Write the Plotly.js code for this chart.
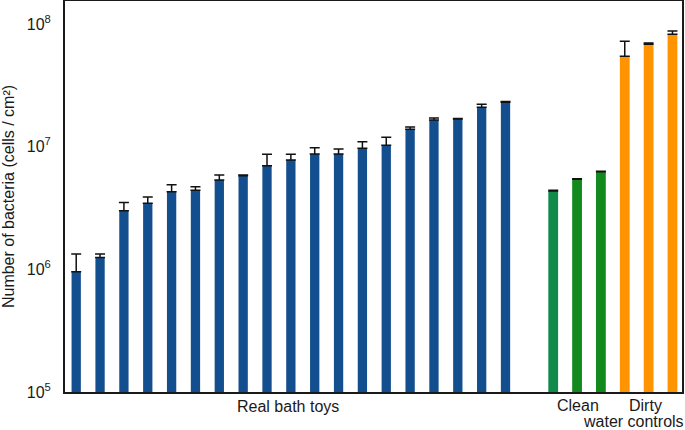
<!DOCTYPE html>
<html>
<head>
<meta charset="utf-8">
<script src="https://cdn.plot.ly/plotly-3.0.1.min.js"></script>
<style>html,body{margin:0;padding:0;background:#fff;}#chart{width:685px;height:430px;}</style>
</head>
<body>
<div id="chart"></div>
<script>
// Real bath toys (cells / cm²), sorted ascending, with upper error
const toyValues = [9.56e5, 1.25e6, 3.00e6, 3.45e6, 4.29e6, 4.40e6, 5.34e6, 5.79e6, 6.99e6, 7.78e6, 8.70e6, 8.70e6, 9.69e6, 1.025e7, 1.384e7, 1.648e7, 1.679e7, 2.091e7, 2.296e7];
const toyErrors = [3.77e5, 0.08e6, 0.51e6, 0.43e6, 0.60e6, 0.31e6, 0.52e6, 0.08e6, 1.67e6, 0.88e6, 1.09e6, 0.86e6, 1.28e6, 1.66e6, 0.60e6, 0.63e6, 0.13e6, 1.20e6, 0.35e6];
// Control experiments
const cleanValues = [4.35e6, 5.41e6, 6.24e6];
const cleanErrors = [0.06e6, 0.05e6, 0.05e6];
const dirtyValues = [5.44e7, 6.82e7, 8.23e7];
const dirtyErrors = [1.77e7, 0.17e7, 0.52e7];
const yTickValues = [1e5, 1e6, 1e7, 1e8];
const yTickText = ['10<sup>5</sup>', '10<sup>6</sup>', '10<sup>7</sup>', '10<sup>8</sup>'];
const groupLabels = ['Real bath toys', 'Clean', 'Dirty', 'water controls'];

const toyX = toyValues.map((_, i) => i);
const cleanX = cleanValues.map((_, i) => toyValues.length + 1 + i);
const dirtyX = dirtyValues.map((_, i) => toyValues.length + 1 + cleanValues.length + i);

const errStyle = (arr) => ({type: 'data', symmetric: false, array: arr, arrayminus: arr.map(() => 0), color: '#111', thickness: 1.5, width: 5, visible: true});

const traces = [
  {type: 'bar', x: toyX, y: toyValues, width: 0.39, marker: {color: '#134e8e'}, error_y: errStyle(toyErrors), hoverinfo: 'y'},
  {type: 'bar', x: cleanX, y: cleanValues, width: 0.41, marker: {color: ['#0f8a48', '#12891c', '#12891c']}, error_y: errStyle(cleanErrors), hoverinfo: 'y'},
  {type: 'bar', x: dirtyX, y: dirtyValues, width: 0.41, marker: {color: '#ff9300'}, error_y: errStyle(dirtyErrors), hoverinfo: 'y'}
];

const family = 'Liberation Sans, Arial, sans-serif';
const font = {family: family, size: 16, color: '#1a1a1a'};

const layout = {
  width: 685, height: 430,
  margin: {l: 65, r: 2.5, t: 1, b: 38},
  paper_bgcolor: '#fff', plot_bgcolor: '#fff',
  showlegend: false,
  barmode: 'overlay',
  font: font,
  xaxis: {
    range: [-0.47, 25.40], showgrid: false, zeroline: false, showticklabels: false, ticks: '',
    showline: true, linecolor: '#1a1a1a', linewidth: 2, mirror: true, fixedrange: true
  },
  yaxis: {
    type: 'log', range: [5, 8.1866], showgrid: false, zeroline: false,
    tickvals: yTickValues, ticktext: yTickText, ticks: '', ticklabelstandoff: 9,
    tickfont: {family: family, size: 16, color: '#1a1a1a'},
    showline: true, linecolor: '#1a1a1a', linewidth: 2, mirror: true, fixedrange: true,
    title: {text: 'Number of bacteria (cells / cm²)', font: {family: family, size: 16, color: '#1a1a1a'}, standoff: 10}
  },
  annotations: [
    {text: groupLabels[0], x: 8.9, y: -0.038, xref: 'x', yref: 'paper', showarrow: false, yanchor: 'middle', borderpad: 0, font: font},
    {text: groupLabels[1], x: 21.05, y: -0.035, xref: 'x', yref: 'paper', showarrow: false, yanchor: 'middle', borderpad: 0, font: font},
    {text: groupLabels[2], x: 23.85, y: -0.035, xref: 'x', yref: 'paper', showarrow: false, yanchor: 'middle', borderpad: 0, font: font},
    {text: groupLabels[3], x: 23.36, y: -0.0765, xref: 'x', yref: 'paper', showarrow: false, yanchor: 'middle', borderpad: 0, font: font}
  ]
};

Plotly.newPlot('chart', traces, layout, {displayModeBar: false, staticPlot: true});
</script>
</body>
</html>
